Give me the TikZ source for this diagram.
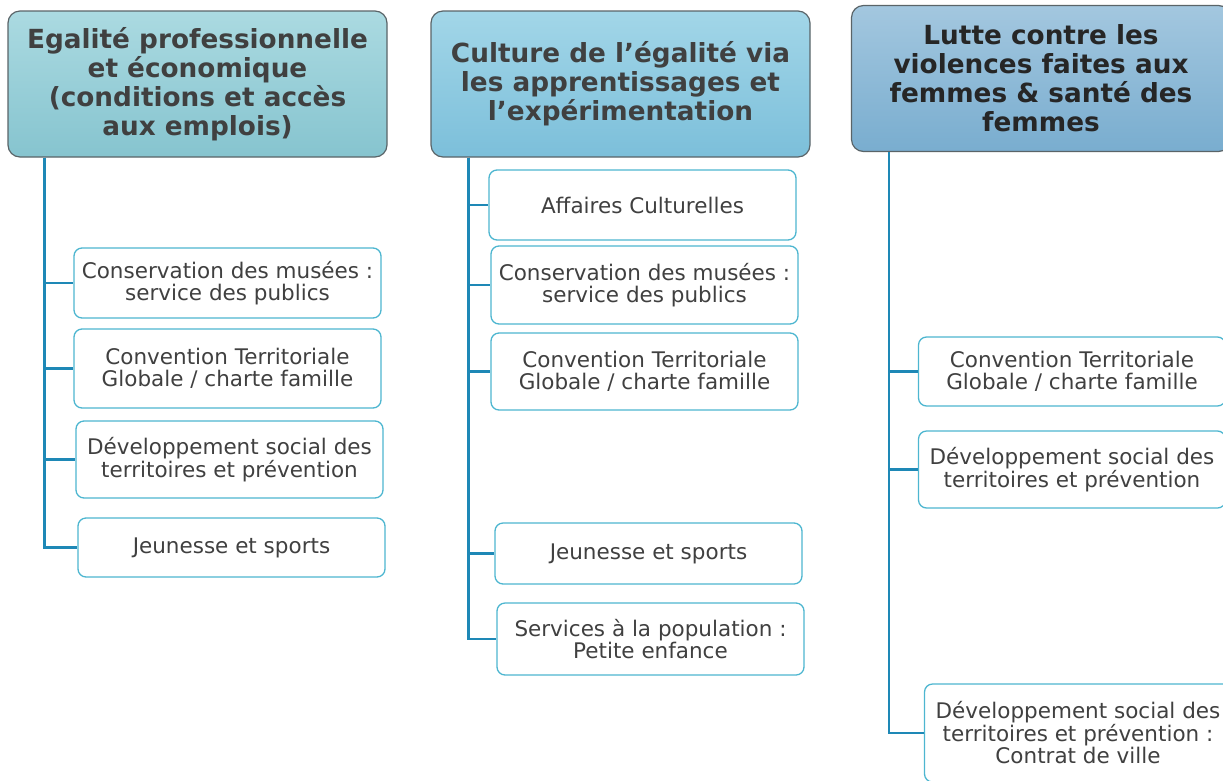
\documentclass[tikz,border=0pt]{standalone}
\usepackage{fontspec}
\setmainfont{DejaVu Sans}
\definecolor{txt}{HTML}{404040}
\definecolor{txtdark}{HTML}{262626}
\definecolor{cborder}{HTML}{4DB6D0}
\definecolor{trunk}{HTML}{1E88B6}
\definecolor{hborder}{HTML}{5A6468}
\definecolor{hAtop}{HTML}{ABDAE1}
\definecolor{hAbot}{HTML}{86C4CF}
\definecolor{hBtop}{HTML}{A2D6E8}
\definecolor{hBbot}{HTML}{7CBFDA}
\definecolor{hCtop}{HTML}{A3C7DF}
\definecolor{hCbot}{HTML}{79ADCF}
\tikzset{
  headbox/.style={draw=hborder, line width=1.2, rounded corners=12, align=center,
    minimum width=379, minimum height=146, inner sep=0, text=txt,
    font=\fontsize{26.3}{29}\selectfont\bfseries},
  childbox/.style={draw=cborder, line width=1.3, rounded corners=8, fill=white, align=center,
    minimum width=307, inner sep=0, text=txt, font=\fontsize{21.5}{22.5}\selectfont},
  link/.style={draw=trunk, line width=2.8}
}
\begin{document}
\begin{tikzpicture}[x=1pt,y=-1pt]
\useasboundingbox (0,0) rectangle (1223,780);
\clip (0,0) rectangle (1223,780);
% headers
\node[headbox, top color=hAtop, bottom color=hAbot] (h1) at (197.5,84) {Egalité professionnelle\\et économique\\(conditions et accès\\aux emplois)};
\node[headbox, top color=hBtop, bottom color=hBbot] (h2) at (620.5,84) {Culture de l’égalité via\\les apprentissages et\\l’expérimentation};
\node[headbox, top color=hCtop, bottom color=hCbot, text=txtdark] (h3) at (1041,78.5) {Lutte contre les\\violences faites aux\\femmes \& santé des\\femmes};
% column 1
\node[childbox, minimum height=70] (a1) at (227.5,283) {Conservation des musées :\\service des publics};
\node[childbox, minimum height=79] (a2) at (227.5,368.5) {Convention Territoriale\\Globale / charte famille};
\node[childbox, minimum height=77] (a3) at (229.5,459.5) {Développement social des\\territoires et prévention};
\node[childbox, minimum height=59] (a4) at (231.5,547.5) {Jeunesse et sports};
% column 2
\node[childbox, minimum height=70] (b1) at (642.5,205) {Affaires Culturelles};
\node[childbox, minimum height=78] (b2) at (644.5,285) {Conservation des musées :\\service des publics};
\node[childbox, minimum height=77] (b3) at (644.5,371.5) {Convention Territoriale\\Globale / charte famille};
\node[childbox, minimum height=61] (b4) at (648.5,553.5) {Jeunesse et sports};
\node[childbox, minimum height=72] (b5) at (650.5,639) {Services à la population :\\Petite enfance};
% column 3
\node[childbox, minimum height=69] (c1) at (1072,371.5) {Convention Territoriale\\Globale / charte famille};
\node[childbox, minimum height=77] (c2) at (1072,469.5) {Développement social des\\territoires et prévention};
\node[childbox, minimum height=98] (c3) at (1078,733) {Développement social des\\territoires et prévention :\\Contrat de ville};
% connectors
\foreach \c in {a1,a2,a3,a4} \draw[link] ([xshift=37]h1.south west) |- (\c.west);
\foreach \c in {b1,b2,b3,b4,b5} \draw[link] ([xshift=38]h2.south west) |- (\c.west);
\foreach \c in {c1,c2,c3} \draw[link] ([xshift=38]h3.south west) |- (\c.west);
\end{tikzpicture}
\end{document}
